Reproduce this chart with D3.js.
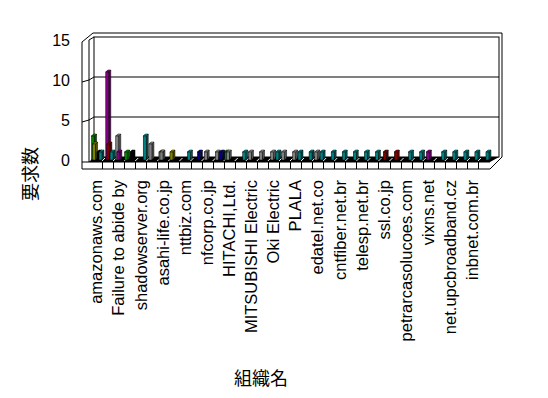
<!DOCTYPE html>
<html>
<head>
<meta charset="utf-8">
<script src="https://cdn.jsdelivr.net/npm/d3@7"></script>
<style>
body { margin: 0; background: #fff; }
text { font-family: "Liberation Sans", Arial, sans-serif; fill: #000; }
</style>
</head>
<body>
<div id="root"></div>
<script>
// Categories (only every second one is labelled on the axis)
var categories = ["amazonaws.com", "組織2", "Failure to abide by", "組織4", "shadowserver.org", "組織6",
	"asahi-life.co.jp", "組織8", "nttbiz.com", "組織10", "nfcorp.co.jp", "組織12",
	"HITACHI,Ltd.", "組織14", "MITSUBISHI Electric", "組織16", "Oki Electric", "組織18",
	"PLALA", "組織20", "edatel.net.co", "組織22", "cntfiber.net.br", "組織24",
	"telesp.net.br", "組織26", "ssl.co.jp", "組織28", "petrarcasolucoes.com", "組織30",
	"vixns.net", "組織32", "net.upcbroadband.cz", "組織34", "inbnet.com.br", "組織36"];

var valueTicks = [0, 5, 10, 15];

// Series, back to front
var seriesNames = ["green", "olive", "gray", "purple", "maroon", "black", "navy", "teal"];
var seriesColors = ["#008000", "#808000", "#808080", "#800080", "#800000", "#000000", "#000080", "#008080"];

var green  = [3,0,0,1,0,0,0,0,0,0,0,0,1,0,0,0,0,0,0,0,0,0,0,0,0,0,0,0,0,0,0,0,0,0,0,0];
var olive  = [2,0,0,0,0,0,1,1,0,0,0,0,0,0,0,0,0,0,0,0,0,0,0,0,0,0,0,0,0,0,0,0,0,0,0,0];
var gray   = [0,0,3,0,0,2,1,0,0,0,1,1,1,0,1,1,1,1,1,0,1,0,0,0,0,0,0,0,0,0,0,0,0,0,0,0];
var purple = [0,11,1,0,0,0,0,0,0,0,0,0,0,0,0,0,0,0,0,0,0,0,0,0,0,0,0,0,0,0,1,0,0,0,0,0];
var maroon = [0,2,0,0,0,0,0,0,0,0,0,0,0,0,0,0,0,0,0,0,0,0,0,0,0,0,1,1,0,0,0,0,0,0,0,0];
var black  = [1,0,0,1,0,0,0,0,0,0,0,0,0,0,0,0,0,0,0,0,0,0,0,0,0,0,0,0,0,0,0,0,0,0,0,0];
var navy   = [0,0,0,0,0,0,0,0,0,1,0,1,0,0,0,0,0,0,0,0,0,0,0,0,0,0,0,0,0,0,0,0,0,0,0,0];
var teal   = [1,1,0,0,3,0,0,0,1,0,0,0,0,1,0,0,1,0,1,1,1,1,1,1,1,1,0,0,1,1,0,1,1,1,1,1];

var seriesValues = [green, olive, gray, purple, maroon, black, navy, teal];

var width = 548, height = 398;

var svg = d3.select("#root")
	.append("svg")
	.attr("width", width)
	.attr("height", height);

var x = d3.scaleBand()
	.domain(categories)
	.range([91, 489]);

var y = d3.scaleLinear()
	.domain([0, 15])
	.range([160, 40]);

// position of each series inside a category slot
var s = d3.scalePoint()
	.domain(seriesNames)
	.range([0.5, 8]);

var color = d3.scaleOrdinal()
	.domain(seriesNames)
	.range(seriesColors);

// depth offset of the back wall
var dx = 5, dy = -3;

// Outer frame (wall thickness)
svg.append("path")
	.attr("d", "M82,169 V42 L93,33 H502 V157 L490,169 Z")
	.attr("fill", "#fff")
	.attr("stroke", "#000");

// Back wall
svg.append("rect")
	.attr("x", 89 + dx)
	.attr("y", y(15) + dy)
	.attr("width", 499 - 89 - dx)
	.attr("height", y(0) - y(15))
	.attr("fill", "#fff")
	.attr("stroke", "#000");

// Left wall inner edge
svg.append("path")
	.attr("d", "M89,162 V" + y(15) + " L" + (89 + dx) + "," + (y(15) + dy))
	.attr("fill", "none")
	.attr("stroke", "#000");

// Gridlines on back and left wall
svg.selectAll(".grid")
	.data(valueTicks.filter(function (d) { return d > 0 && d < 15; }))
	.enter()
	.append("path")
	.attr("d", function (d) {
		return "M82," + (y(d) + 2) + " L89," + y(d) + " L" + (89 + dx) + "," + (y(d) + dy) + " H499";
	})
	.attr("fill", "none")
	.attr("stroke", "#000");

// Floor (dark because of all the zero-height columns)
svg.append("path")
	.attr("d", "M89,162 L" + (89 + dx) + "," + (y(0) + dy) + " H499 L490,162 Z")
	.attr("fill", "#000");

// Floor front face
svg.append("line")
	.attr("x1", 82).attr("x2", 490)
	.attr("y1", 162).attr("y2", 162)
	.attr("stroke", "#000");

// Category ticks and little gaps in the floor
var bounds = categories.slice(1);

svg.selectAll(".tick")
	.data(bounds)
	.enter()
	.append("line")
	.attr("x1", function (d) { return Math.round(x(d)) + 0.5; })
	.attr("x2", function (d) { return Math.round(x(d)) + 0.5; })
	.attr("y1", 162)
	.attr("y2", 169)
	.attr("stroke", "#000");

svg.selectAll(".gap")
	.data(bounds)
	.enter()
	.append("line")
	.attr("x1", function (d) { return x(d); })
	.attr("x2", function (d) { return x(d) + 3; })
	.attr("y1", 161)
	.attr("y2", 158)
	.attr("stroke", "#fff");

// Columns
var bw = 3, side = 2;

seriesNames.forEach(function (name, i) {
	var vals = seriesValues[i];
	var pts = categories.map(function (c, j) { return {cat: c, value: vals[j]}; })
		.filter(function (d) { return d.value > 0; });

	var g = svg.append("g");
	var bars = g.selectAll("g")
		.data(pts)
		.enter()
		.append("g")
		.attr("transform", function (d) { return "translate(" + (x(d.cat) + s(name)) + ",0)"; });

	// side face
	bars.append("path")
		.attr("d", function (d) {
			return "M" + bw + "," + y(d.value) + " l" + side + "," + (-side) +
				" V" + (y(0) - side) + " L" + bw + "," + y(0) + " Z";
		})
		.attr("fill", d3.color(color(name)).darker(1.2))
		.attr("stroke", "#000")
		.attr("stroke-width", 0.5);

	// top face
	bars.append("path")
		.attr("d", function (d) {
			return "M0," + y(d.value) + " l" + side + "," + (-side) + " h" + bw + " l" + (-side) + "," + side + " Z";
		})
		.attr("fill", d3.color(color(name)).brighter(0.4))
		.attr("stroke", "#000")
		.attr("stroke-width", 0.5);

	// front face
	bars.append("rect")
		.attr("x", 0)
		.attr("y", function (d) { return y(d.value); })
		.attr("width", bw)
		.attr("height", function (d) { return y(0) - y(d.value); })
		.attr("fill", color(name))
		.attr("stroke", "#000")
		.attr("stroke-width", 0.5);
});

// Value axis labels
svg.selectAll(".vlabel")
	.data(valueTicks)
	.enter()
	.append("text")
	.attr("x", 70)
	.attr("y", function (d) { return y(d); })
	.attr("dy", "0.35em")
	.attr("text-anchor", "end")
	.attr("font-size", 16)
	.text(function (d) { return d; });

// Category labels, every second one
svg.selectAll(".clabel")
	.data(categories.filter(function (d, i) { return i % 2 === 0; }))
	.enter()
	.append("text")
	.attr("transform", function (d) {
		return "translate(" + (x(d) + x.bandwidth() / 2) + ",180) rotate(-90)";
	})
	.attr("dy", "0.35em")
	.attr("text-anchor", "end")
	.attr("font-size", 16.5)
	.text(function (d) { return d; });

// Axis titles
svg.append("text")
	.attr("transform", "translate(37,174) rotate(-90)")
	.attr("text-anchor", "middle")
	.attr("font-size", 18)
	.style("font-family", "'Noto Sans CJK JP', sans-serif")
	.text("要求数");

svg.append("text")
	.attr("x", 261)
	.attr("y", 385)
	.attr("text-anchor", "middle")
	.attr("font-size", 18)
	.style("font-family", "'Noto Sans CJK JP', sans-serif")
	.text("組織名");
</script>
</body>
</html>
